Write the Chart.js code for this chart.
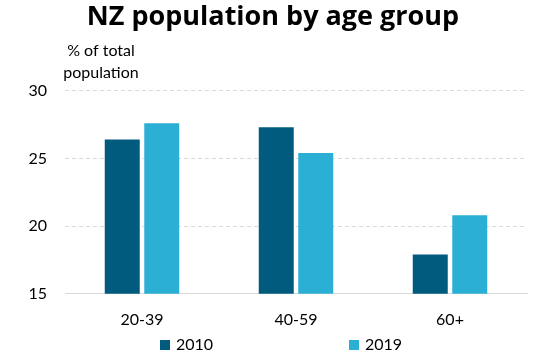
<!DOCTYPE html>
<html>
<head>
<meta charset="utf-8">
<script src="https://cdn.jsdelivr.net/npm/chart.js@4"></script>
<style>
  html, body { margin: 0; padding: 0; background: #fff; }
  #wrap { width: 542px; height: 364px; }
</style>
</head>
<body>
<div id="wrap"><canvas id="popChart"></canvas></div>
<script>
  const ageGroups = ['20-39', '40-59', '60+'];
  const pop2010 = [26.4, 27.3, 17.9];
  const pop2019 = [27.6, 25.4, 20.8];
  const yTicks = [15, 20, 25, 30];
  const axisTitle = ['% of total', 'population'];

  const labelFont = { family: 'Lato', size: 16 };

  // y axis caption above the axis, and a spread-out legend under the x labels
  const extras = {
    id: 'extras',
    afterDraw(chart) {
      const ctx = chart.ctx;
      ctx.save();
      ctx.fillStyle = '#000';
      ctx.font = '16px Lato';
      ctx.textAlign = 'center';
      ctx.textBaseline = 'alphabetic';
      ctx.fillText(axisTitle[0], 101, 56);
      ctx.fillText(axisTitle[1], 101, 78);

      const legendX = [160, 349];
      ctx.textAlign = 'left';
      ctx.textBaseline = 'middle';
      chart.data.datasets.forEach((ds, i) => {
        ctx.fillStyle = ds.backgroundColor;
        ctx.fillRect(legendX[i], 340, 10, 10);
        ctx.fillStyle = '#000';
        ctx.fillText(ds.label, legendX[i] + 16, 345);
      });
      ctx.restore();
    }
  };

  new Chart(document.getElementById('popChart'), {
    type: 'bar',
    data: {
      labels: ageGroups,
      datasets: [
        {
          label: '2010',
          data: pop2010,
          backgroundColor: '#005b7e'
        },
        {
          label: '2019',
          data: pop2019,
          backgroundColor: '#2cafd5'
        }
      ]
    },
    options: {
      responsive: true,
      maintainAspectRatio: false,
      animation: false,
      categoryPercentage: 0.513,
      barPercentage: 0.886,
      layout: {
        padding: { left: 19, right: 15, top: 2, bottom: 19 }
      },
      plugins: {
        legend: { display: false },
        tooltip: { enabled: false },
        title: {
          display: true,
          text: 'NZ population by age group',
          color: '#000',
          font: { family: 'Open Sans', size: 27, weight: 'bold', lineHeight: 1.1 },
          padding: { top: 0, bottom: 59 }
        }
      },
      scales: {
        x: {
          grid: { display: false, drawTicks: false },
          border: { display: true, color: '#d9d9d9', width: 1 },
          ticks: { color: '#000', font: labelFont, padding: 16 }
        },
        y: {
          min: 15,
          max: 30,
          afterBuildTicks(scale) {
            scale.ticks = yTicks.map(v => ({ value: v }));
          },
          afterFit(scale) {
            scale.width = 46;
          },
          grid: { color: '#d9d9d9', drawTicks: false },
          border: { display: false, dash: [4, 3] },
          ticks: { color: '#000', font: labelFont, padding: 18 }
        }
      }
    },
    plugins: [extras]
  });
</script>
</body>
</html>
